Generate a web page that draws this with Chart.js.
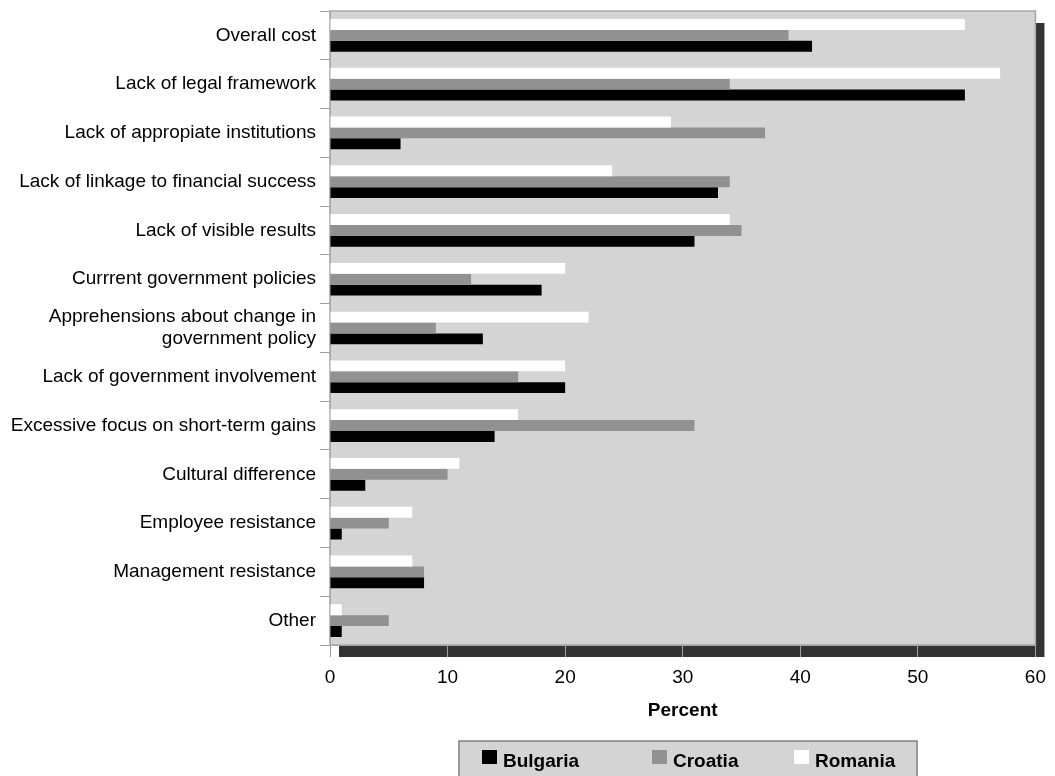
<!DOCTYPE html>
<html lang="en">
<head>
  <meta charset="UTF-8" />
  <title>Barriers by country</title>
  <script src="https://cdn.jsdelivr.net/npm/chart.js"></script>
  <style>
    html, body { margin: 0; padding: 0; background: #fff; }
    #wrap { width: 1055px; height: 776px; }
  </style>
</head>
<body>
  <div id="wrap"><canvas id="grafico"></canvas></div>

  <script>
    // categories, top to bottom
    const categories = [
      'Overall cost',
      'Lack of legal framework',
      'Lack of appropiate institutions',
      'Lack of linkage to financial success',
      'Lack of visible results',
      'Currrent government policies',
      ['Apprehensions about change in', 'government policy'],
      'Lack of government involvement',
      'Excessive focus on short-term gains',
      'Cultural difference',
      'Employee resistance',
      'Management resistance',
      'Other'
    ];

    const romania  = [54, 57, 29, 24, 34, 20, 22, 20, 16, 11, 7, 7, 1];
    const croatia  = [39, 34, 37, 34, 35, 12,  9, 16, 31, 10, 5, 8, 5];
    const bulgaria = [41, 54,  6, 33, 31, 18, 13, 20, 14,  3, 1, 8, 1];

    const xMin = 0, xMax = 60, xStep = 10;
    const xTitle = 'Percent';

    const FONT = "'Liberation Sans', Arial, sans-serif";

    // shadow + grey plot background, frame, and the boxed legend
    const plotFrame = {
      id: 'plotFrame',
      beforeDraw(chart) {
        const { ctx, chartArea: a } = chart;
        ctx.save();
        ctx.fillStyle = '#333333';
        ctx.fillRect(a.left + 9, a.top + 12, a.right - a.left, a.bottom - a.top);
        ctx.fillStyle = '#d4d4d4';
        ctx.fillRect(a.left, a.top, a.right - a.left, a.bottom - a.top);
        ctx.restore();
      },
      beforeDatasetsDraw(chart) {
        const { ctx, chartArea: a } = chart;
        ctx.save();
        ctx.strokeStyle = '#a6a6a6';
        ctx.lineWidth = 1.5;
        ctx.strokeRect(a.left, a.top, a.right - a.left, a.bottom - a.top);
        ctx.restore();
      },
      afterDraw(chart) {
        const ctx = chart.ctx;
        ctx.save();
        ctx.fillStyle = '#d4d4d4';
        ctx.fillRect(459, 741, 458, 40);
        ctx.strokeStyle = '#7f7f7f';
        ctx.lineWidth = 1.5;
        ctx.strokeRect(459, 741, 458, 40);
        const xs = [482, 652, 794];
        const items = chart.data.datasets.slice().reverse();
        ctx.font = 'bold 19px ' + FONT;
        ctx.textBaseline = 'alphabetic';
        items.forEach((ds, i) => {
          ctx.fillStyle = ds.backgroundColor;
          ctx.fillRect(xs[i], 750, 15, 14);
          ctx.fillStyle = '#000';
          ctx.fillText(ds.label, xs[i] + 21, 767);
        });
        ctx.restore();
      }
    };

    const ctx = document.getElementById('grafico').getContext('2d');
    const chart = new Chart(ctx, {
      type: 'bar',
      data: {
        labels: categories,
        datasets: [
          { label: 'Romania',  data: romania,  backgroundColor: '#ffffff' },
          { label: 'Croatia',  data: croatia,  backgroundColor: '#919191' },
          { label: 'Bulgaria', data: bulgaria, backgroundColor: '#000000' }
        ]
      },
      options: {
        indexAxis: 'y',
        responsive: true,
        maintainAspectRatio: false,
        animation: false,
        layout: { padding: { top: 11, right: 18, bottom: 51, left: 0 } },
        datasets: {
          bar: { categoryPercentage: 0.67, barPercentage: 1.0, borderWidth: 0 }
        },
        plugins: {
          legend: { display: false },
          tooltip: { enabled: false }
        },
        scales: {
          x: {
            min: xMin,
            max: xMax,
            ticks: {
              stepSize: xStep,
              color: '#000',
              padding: 9,
              font: { family: FONT, size: 19 }
            },
            grid: { drawOnChartArea: false, tickLength: 12, color: '#a0a0a0' },
            border: { color: '#a6a6a6' },
            title: {
              display: true,
              text: xTitle,
              color: '#000',
              padding: { top: 0, bottom: 3 },
              font: { family: FONT, size: 19, weight: 'bold' }
            },
            afterFit(scale) { scale.height = 80; }
          },
          y: {
            ticks: {
              color: '#000',
              padding: 4,
              font: { family: FONT, size: 19, lineHeight: 1.15 }
            },
            grid: { drawOnChartArea: false, tickLength: 10, color: '#a0a0a0', offset: true },
            border: { color: '#a6a6a6' },
            afterFit(scale) {
              scale.width = 330;
              scale.paddingTop = 0;
              scale.paddingBottom = 0;
            }
          }
        }
      },
      plugins: [plotFrame]
    });
  </script>
</body>
</html>
